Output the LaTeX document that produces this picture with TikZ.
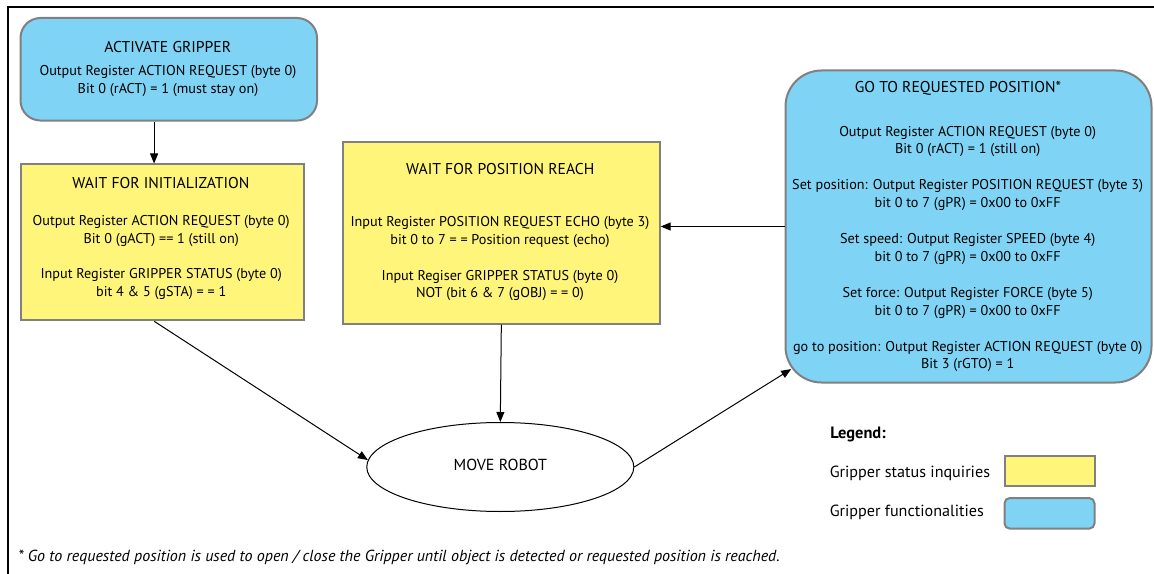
\documentclass[tikz,border=0pt]{standalone}
\usepackage{fontspec}
\setmainfont{PT Sans}
\usetikzlibrary{arrows.meta,shapes.geometric,calc}
\definecolor{fblue}{HTML}{7FD4F5}
\definecolor{fyellow}{HTML}{FFF57A}
\definecolor{bgray}{HTML}{808080}
\newcommand{\lines}[1]{\begin{tabular}[t]{@{}c@{}}#1\end{tabular}}
\begin{document}
\begin{tikzpicture}[x=0.75pt,y=-0.75pt,
  box/.style={draw=bgray, line width=1.5pt, inner sep=0pt, anchor=north west},
  ybox/.style={box, fill=fyellow},
  bbox/.style={box, fill=fblue},
  ttl/.style={font=\fontsize{11.75}{14}\selectfont, anchor=base, inner sep=0pt},
  body/.style={font=\fontsize{10.65}{13.3}\selectfont, anchor=base, inner sep=0pt},
  lgd/.style={font=\fontsize{12.1}{14}\selectfont, anchor=base west, inner sep=0pt},
  arr/.style={-{Triangle[length=7.5pt,width=6pt]}, line width=0.75pt}]
\useasboundingbox (0,0) rectangle (1154,574);
% frame
\draw[line width=1.6pt] (8,574) -- (8,7) -- (1154,7);
% boxes
\node[bbox, rounded corners=15pt, minimum width=222.4pt, minimum height=76.9pt] (act) at (19.5,17) {};
\node[ybox, minimum width=212pt, minimum height=116.9pt] (init) at (20,163.5) {};
\node[ybox, minimum width=237.5pt, minimum height=136pt] (pos) at (342,141.3) {};
\node[bbox, rounded corners=27pt, minimum width=274.5pt, minimum height=234pt] (go) at (784.5,69.5) {};
\node[draw, ellipse, line width=0.75pt, minimum width=200.3pt, minimum height=66.75pt, inner sep=0pt,
      font=\fontsize{12}{14}\selectfont] (robot) at (500.3,467) {\raisebox{3.5pt}{MOVE ROBOT}};
% texts
\node[ttl] (actT) at (167.8,52.8) {ACTIVATE GRIPPER};
\node[body] (actB) at (168,75.2) {\lines{Output Register ACTION REQUEST (byte 0)\\[0.7pt] Bit 0 (rACT) = 1 (must stay on)}};
\node[ttl] (initT) at (160.9,188.2) {WAIT FOR INITIALIZATION};
\node[body] (initB) at (161.2,225.5) {\lines{Output Register ACTION REQUEST (byte 0)\\ Bit 0 (gACT) == 1 (still on)\\[13.3pt]
  Input Register GRIPPER STATUS (byte 0)\\ bit 4 \& 5 (gSTA) = = 1}};
\node[ttl] (posT) at (500.2,174.2) {WAIT FOR POSITION REACH};
\node[body] (posB) at (500,226.5) {\lines{Input Register POSITION REQUEST ECHO (byte 3)\\ bit 0 to 7 = = Position request (echo)\\[13.7pt]
  Input Regiser GRIPPER STATUS (byte 0)\\ NOT (bit 6 \& 7 (gOBJ) = = 0)}};
\node[ttl] (goT) at (958,92.2) {GO TO REQUESTED POSITION*};
\node[body] (goB) at (967.7,136.2) {\lines{Output Register ACTION REQUEST (byte 0)\\ Bit 0 (rACT) = 1 (still on)\\[13.7pt]
  Set position: Output Register POSITION REQUEST (byte 3)\\ bit 0 to 7 (gPR) = 0x00 to 0xFF\\[13.7pt]
  Set speed: Output Register SPEED (byte 4)\\ bit 0 to 7 (gPR) = 0x00 to 0xFF\\[13.7pt]
  Set force: Output Register FORCE (byte 5)\\ bit 0 to 7 (gPR) = 0x00 to 0xFF\\[13.7pt]
  go to position: Output Register ACTION REQUEST (byte 0)\\ Bit 3 (rGTO) = 1}};
% arrows
\draw[arr] ([xshift=-11pt]act.south) -- ([xshift=-11pt]act.south |- init.north);
\draw[arr] ([xshift=-6pt]init.south) -- (robot.177);
\draw[arr] (pos.south) -- (robot.north);
\draw[arr] (robot.east) -- ([xshift=5pt,yshift=10.8pt]go.south west);
\draw[arr] (go.west) -- (go.west -| pos.east);
% legend
\node[lgd, font=\fontsize{12.3}{14}\selectfont\bfseries] (lgT) at (830,438.5) {Legend:};
\node[lgd] (lg1) at (829.5,477) {Gripper status inquiries};
\node[lgd] (lg2) at (829.5,516) {Gripper functionalities};
\node[ybox, minimum width=67.5pt, minimum height=22.7pt] (lgY) at (1003.5,455) {};
\node[bbox, rounded corners=4pt, minimum width=67.5pt, minimum height=23pt] (lgB) at (1003.5,497) {};
% footnote
\node[anchor=base west, inner sep=0pt, font=\itshape\fontsize{12}{14}\selectfont] (foot) at (18,561)
  {* Go to requested position is used to open / close the Gripper until object is detected or requested position is reached.};
\end{tikzpicture}
\end{document}
